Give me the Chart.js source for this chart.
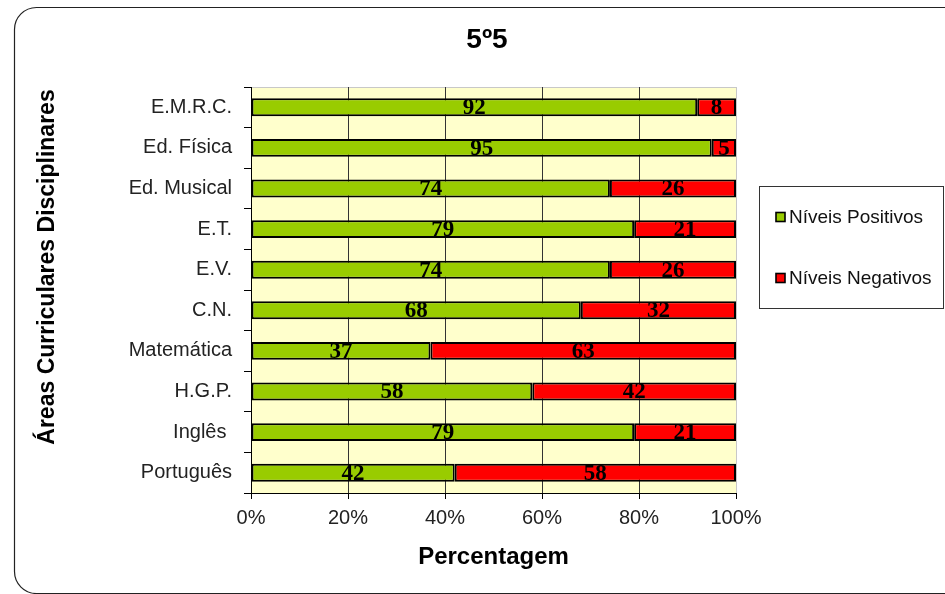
<!DOCTYPE html>
<html>
<head>
<meta charset="utf-8">
<script src="https://cdn.jsdelivr.net/npm/chart.js@4"></script>
<style>
html,body{margin:0;padding:0;background:#fff;}
#wrap{width:945px;height:594px;position:relative;}
</style>
</head>
<body>
<div id="wrap"><canvas id="c" width="945" height="594"></canvas></div>
<script>
const chartTitle = "5º5";
const xAxisTitle = "Percentagem";
const yAxisTitle = "Áreas Curriculares Disciplinares";
const categories = ["E.M.R.C.", "Ed. Física", "Ed. Musical", "E.T.", "E.V.", "C.N.", "Matemática", "H.G.P.", "Inglês ", "Português"];
const positivos = [92, 95, 74, 79, 74, 68, 37, 58, 79, 42];
const negativos = [8, 5, 26, 21, 26, 32, 63, 42, 21, 58];
const seriesNames = ["Níveis Positivos", "Níveis Negativos"];
const seriesColors = ["#99CC00", "#FF0000"];
const xTicks = [0, 20, 40, 60, 80, 100];

const SANS = '"Liberation Sans", Arial, sans-serif';

const decorPlugin = {
  id: 'decor',
  beforeDraw(chart) {
    const ctx = chart.ctx;
    const a = chart.chartArea;
    ctx.save();
    ctx.strokeStyle = '#222';
    ctx.lineWidth = 1.2;
    ctx.beginPath();
    ctx.roundRect(14.5, 7.5, 960, 586, 22);
    ctx.stroke();
    ctx.fillStyle = '#FFFFCC';
    ctx.fillRect(a.left, a.top, a.right - a.left, a.bottom - a.top);
    ctx.strokeStyle = '#C8C8C8';
    ctx.lineWidth = 1;
    ctx.beginPath();
    ctx.moveTo(a.left, a.top + 0.5);
    ctx.lineTo(a.right, a.top + 0.5);
    ctx.stroke();
    ctx.restore();
  },
  afterDraw(chart) {
    const ctx = chart.ctx;
    ctx.save();
    ctx.fillStyle = '#000';
    ctx.font = 'bold 28px ' + SANS;
    ctx.textAlign = 'center';
    ctx.textBaseline = 'middle';
    ctx.fillText(chartTitle, 487, 40);
    ctx.save();
    ctx.translate(48, 267);
    ctx.rotate(-Math.PI / 2);
    ctx.font = 'bold 23px ' + SANS;
    ctx.fillText(yAxisTitle, 0, 0);
    ctx.restore();
    ctx.strokeStyle = '#333';
    ctx.lineWidth = 1;
    ctx.strokeRect(759.5, 186.5, 184, 122);
    const ys = [217, 278];
    chart.data.datasets.forEach((ds, i) => {
      ctx.fillStyle = ds.backgroundColor;
      ctx.fillRect(776, ys[i] - 4.5, 9, 9);
      ctx.strokeStyle = '#000';
      ctx.lineWidth = 1.6;
      ctx.strokeRect(776, ys[i] - 4.5, 9, 9);
      ctx.fillStyle = '#111';
      ctx.font = '19px ' + SANS;
      ctx.textAlign = 'left';
      ctx.textBaseline = 'middle';
      ctx.fillText(ds.label, 789, ys[i] + 1);
    });
    ctx.restore();
  },
  afterDatasetsDraw(chart) {
    const ctx = chart.ctx;
    ctx.save();
    ctx.font = 'bold 23px "Liberation Serif", "Times New Roman", serif';
    ctx.fillStyle = '#000';
    ctx.textAlign = 'center';
    ctx.textBaseline = 'middle';
    chart.data.datasets.forEach((ds, di) => {
      const meta = chart.getDatasetMeta(di);
      meta.data.forEach((bar, i) => {
        const p = bar.getProps(['x', 'y', 'base'], true);
        const cx = (p.x + p.base) / 2;
        ctx.fillText(String(ds.data[i]), cx, p.y + 1);
      });
    });
    ctx.restore();
  }
};

new Chart(document.getElementById('c'), {
  type: 'bar',
  data: {
    labels: categories,
    datasets: [
      { label: seriesNames[0], data: positivos, backgroundColor: seriesColors[0] },
      { label: seriesNames[1], data: negativos, backgroundColor: seriesColors[1] }
    ]
  },
  options: {
    indexAxis: 'y',
    responsive: false,
    animation: false,
    devicePixelRatio: 1,
    layout: { padding: { top: 87, right: 209, bottom: 0, left: 0 } },
    datasets: {
      bar: {
        borderColor: '#000',
        borderWidth: 2,
        borderSkipped: false,
        categoryPercentage: 1,
        barPercentage: 0.44
      }
    },
    plugins: {
      legend: { display: false },
      title: { display: false },
      tooltip: { enabled: false }
    },
    scales: {
      x: {
        stacked: true,
        min: 0,
        max: 100,
        afterFit(scale) { scale.height = 101; },
        afterBuildTicks(scale) { scale.ticks = xTicks.map(v => ({ value: v })); },
        ticks: {
          callback: v => v + '%',
          font: { family: SANS, size: 20 },
          color: '#222',
          padding: 7,
          maxRotation: 0
        },
        grid: {
          color: ctx => (ctx.index === xTicks.length - 1 ? '#C8C8C8' : '#333'),
          tickColor: '#000',
          tickLength: 6,
          lineWidth: 1
        },
        border: { color: '#000', width: 1 },
        title: {
          display: true,
          text: xAxisTitle,
          color: '#000',
          font: { family: SANS, size: 24, weight: 'bold' },
          padding: { top: 0, bottom: 22 }
        }
      },
      y: {
        stacked: true,
        afterFit(scale) { scale.width = 251; },
        ticks: {
          font: { family: SANS, size: 20 },
          color: '#222',
          padding: 12
        },
        grid: {
          drawOnChartArea: false,
          offset: true,
          tickColor: '#000',
          tickLength: 7
        },
        border: { color: '#000', width: 1 }
      }
    }
  },
  plugins: [decorPlugin]
});
</script>
</body>
</html>
